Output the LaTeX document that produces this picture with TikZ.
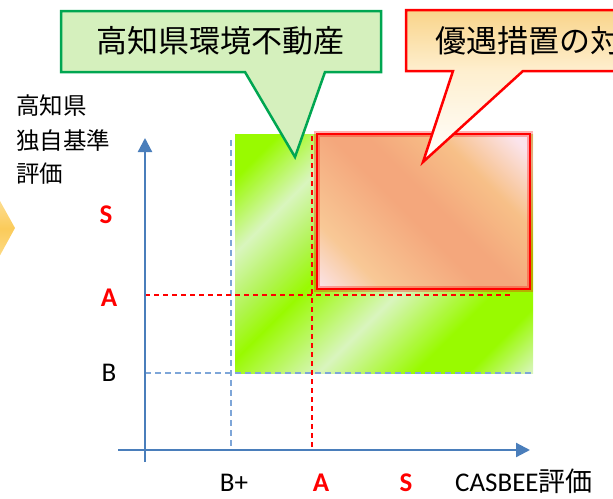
\documentclass[tikz,border=0pt]{standalone}
\usepackage{fontspec}
\setmainfont{Carlito}
\newfontfamily\jp{Noto Sans CJK JP}
\usetikzlibrary{arrows.meta}
\definecolor{axisblue}{RGB}{74,126,187}
\definecolor{dashblue}{RGB}{126,166,216}
\definecolor{gG}{RGB}{153,250,0}
\definecolor{gM}{RGB}{176,244,80}
\definecolor{gL}{RGB}{217,245,190}
\definecolor{oPink}{RGB}{251,228,236}
\definecolor{oPeach}{RGB}{248,200,150}
\definecolor{oSalmon}{RGB}{244,167,124}
\definecolor{oOrange}{RGB}{247,192,136}
\definecolor{cgfill}{RGB}{213,240,189}
\definecolor{cgline}{RGB}{0,166,81}
\definecolor{crtop}{RGB}{249,212,138}
\definecolor{crmid}{RGB}{254,239,207}
\definecolor{chevA}{RGB}{255,244,215}
\definecolor{chevB}{RGB}{251,203,90}
\definecolor{chevC}{RGB}{255,236,185}
\pgfdeclarehorizontalshading{greenstripe}{100bp}{color(0bp)=(gG); color(20.3bp)=(gG); color(30.2bp)=(gL); color(38.7bp)=(gM); color(44.3bp)=(gG); color(57.1bp)=(gL); color(69.8bp)=(gG); color(76.9bp)=(gG); color(85.4bp)=(gL); color(100bp)=(gL)}
\pgfdeclarehorizontalshading{orangeband}{100bp}{color(0bp)=(oPink); color(14.6bp)=(oPink); color(27.3bp)=(oPeach); color(46.5bp)=(oSalmon); color(53.5bp)=(oSalmon); color(67.7bp)=(oOrange); color(81.9bp)=(oPink); color(100bp)=(oPink)}
\pgfdeclareverticalshading{redcallout}{100bp}{color(0bp)=(white); color(25bp)=(white); color(55bp)=(crmid); color(75bp)=(crtop); color(100bp)=(crtop)}
\pgfdeclareverticalshading{chevron}{100bp}{color(0bp)=(chevC); color(25bp)=(chevC); color(50bp)=(chevB); color(75bp)=(chevA); color(100bp)=(chevA)}
\begin{document}
\begin{tikzpicture}[x=1pt,y=-1pt,
  axis/.style={draw=axisblue, line width=2.2pt, -{Triangle[length=14pt,width=14pt]}},
  bdash/.style={draw=dashblue, line width=1.5pt, dash pattern=on 6pt off 4pt},
  rdash/.style={draw=red, line width=1.5pt, dash pattern=on 5pt off 4pt},
  jplab/.style={font=\jp\fontsize{23.5}{28}\selectfont, inner sep=0pt, anchor=base west},
  latlab/.style={font=\fontsize{27}{30}\selectfont, inner sep=0pt, anchor=base},
  redlab/.style={latlab, text=red, font=\fontsize{27}{30}\selectfont\bfseries},
  calltext/.style={font=\jp\fontsize{31}{34}\selectfont, inner sep=0pt, anchor=base}]
\useasboundingbox (0,0) rectangle (613,498);
\clip (0,0) rectangle (613,498);
% left chevron (partly visible)
\shade[shading=chevron] (-20,165) -- (15,228) -- (-20,292) -- cycle;
% green area
\shade[shading=greenstripe, shading angle=-45] (235,134) rectangle (533,373);
% dashed guide lines
\coordinate (bpTop) at (231,140); \coordinate (bpBot) at (231,450);
\coordinate (bL) at (145,373);   \coordinate (bR) at (533,373);
\coordinate (aTop) at (312,136); \coordinate (aBot) at (312,450);
\coordinate (aL) at (145,295);   \coordinate (aR) at (513,295);
\draw[bdash] (bpTop) -- (bpBot);
\draw[bdash] (bL) -- (bR);
\draw[rdash] (aTop) -- (aBot);
\draw[rdash] (aL) -- (aR);
% orange rectangle
\shade[shading=orangeband, shading angle=45] (317,134) rectangle (530,289);
\draw[red, opacity=0.3, line width=6pt] (317,134) rectangle (530,289);
\draw[red, line width=2.5pt] (317,134) rectangle (530,289);
% axes
\coordinate (yb) at (145,462); \coordinate (yt) at (145,138);
\coordinate (xl) at (118,450); \coordinate (xr) at (530,450);
\draw[axis] (yb) -- (yt);
\draw[axis] (xl) -- (xr);
% green callout
\draw[fill=cgfill, draw=cgline, line width=2.5pt, line join=miter]
  (61,11) -- (381,11) -- (381,72) -- (325,72) -- (295,157) -- (245,72) -- (61,72) -- cycle;
\node[calltext] (gtext) at (220,52) {高知県環境不動産};
% red callout
\shade[shading=redcallout] (406,10) -- (630,10) -- (630,71) -- (523,71) -- (423,162) -- (453,71) -- (406,71) -- cycle;
\draw[red, line width=2.5pt, line join=miter]
  (406,10) -- (630,10) -- (630,71) -- (523,71) -- (423,162) -- (453,71) -- (406,71) -- cycle;
\node[calltext, anchor=base west] (rtext) at (435,52) {優遇措置の対};
% y-axis title
\node[jplab] (yt1) at (16,114) {高知県};
\node[jplab] (yt2) at (16,149) {独自基準};
\node[jplab] (yt3) at (16,182) {評価};
% y labels
\node[redlab] (yS) at (106,223.5) {S};
\node[redlab] (yA) at (109,306.5) {A};
\node[latlab] (yB) at (109,381.5) {B};
% x labels
\node[latlab] (xBp) at (234,491) {B+};
\node[redlab] (xA) at (321,491) {A};
\node[redlab] (xS) at (406,491) {S};
\node[latlab, anchor=base west] (xt) at (455,491) {CASBEE{\jp 評価}};
\end{tikzpicture}
\end{document}
